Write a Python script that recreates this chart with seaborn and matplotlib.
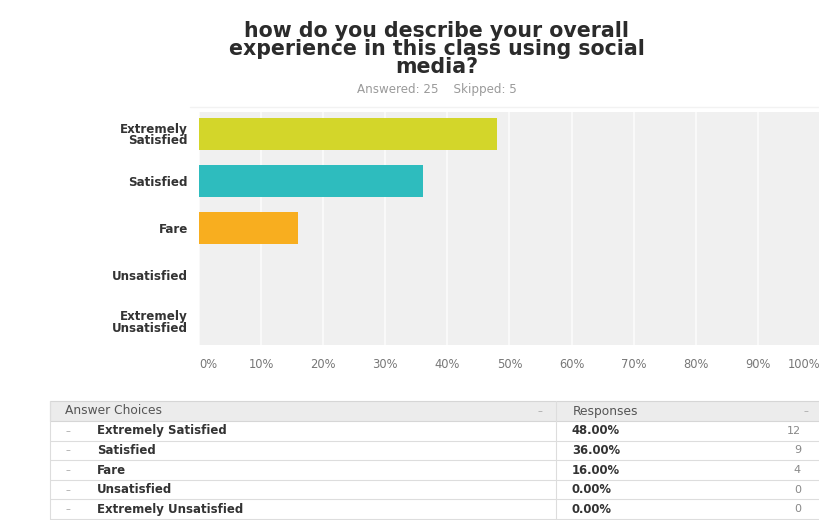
import matplotlib
matplotlib.use("Agg")
import matplotlib.pyplot as plt
import seaborn as sns
import pandas as pd

# Survey answers
categories = ["Extremely\nSatisfied", "Satisfied", "Fare", "Unsatisfied", "Extremely\nUnsatisfied"]
choices = ["Extremely Satisfied", "Satisfied", "Fare", "Unsatisfied", "Extremely Unsatisfied"]
percents = [48.0, 36.0, 16.0, 0.0, 0.0]
counts = [12, 9, 4, 0, 0]
bar_colors = ["#d3d62a", "#2ebcbe", "#f8ae1f", "#8aa5c5", "#9b7bb8"]
tick_values = [0, 10, 20, 30, 40, 50, 60, 70, 80, 90, 100]
tick_labels = ["0%", "10%", "20%", "30%", "40%", "50%", "60%", "70%", "80%", "90%", "100%"]

title_text = "how do you describe your overall\nexperience in this class using social\nmedia?"
subtitle_text = "Answered: 25    Skipped: 5"

sns.set_theme(style="white")
plt.rcParams["font.family"] = ["DejaVu Sans"]

W, H = 820, 520
fig = plt.figure(figsize=(W / 100, H / 100), dpi=100)
fig.patch.set_facecolor("white")

def fx(px):
    return px / W

def fy(py):
    return 1 - py / H

# Title block
fig.text(fx(437), fy(49), title_text, ha="center", va="center", fontsize=14.8,
         fontweight="bold", color="#2b2b2b", linespacing=0.88)
fig.text(fx(437), fy(90), subtitle_text, ha="center", va="center", fontsize=8.6,
         color="#9a9a9a")

# Bar chart
ax = fig.add_axes([fx(199), fy(345), fx(621), (345 - 112) / H])
ax.set_facecolor("#f0f0f0")
df = pd.DataFrame({"choice": categories, "pct": percents})
sns.barplot(data=df, x="pct", y="choice", hue="choice", palette=bar_colors,
            legend=False, width=0.68, ax=ax, saturation=1, zorder=3, linewidth=0)
ax.set_xlim(0, 100)
ax.set_ylim(4.49, -0.47)
for v in tick_values:
    ax.axvline(v, color="#fafafa", lw=1.3, zorder=1)
for s in ax.spines.values():
    s.set_visible(False)
ax.set_xlabel("")
ax.set_ylabel("")
ax.set_xticks(tick_values)
ax.set_xticklabels(tick_labels, fontsize=8.3, color="#777777")
ax.tick_params(axis="x", length=0, pad=9)
ax.tick_params(axis="y", length=0, pad=8)
xl = ax.get_xticklabels()
xl[0].set_horizontalalignment("left")
xl[-1].set_horizontalalignment("right")
for lbl in ax.get_yticklabels():
    lbl.set_fontweight("bold")
    lbl.set_fontsize(8.6)
    lbl.set_color("#333333")
    lbl.set_linespacing(0.85)
    lbl.set_multialignment("right")

# Separator line above the chart
fig.add_artist(plt.Line2D([fx(190), fx(820)], [fy(107), fy(107)], color="#f2f2f2", lw=1))

# Response table
tab = fig.add_axes([0, 0, 1, 1], facecolor="none")
tab.set_xlim(0, W)
tab.set_ylim(H, 0)
tab.axis("off")

header_top, header_bot = 401, 421
row_h = 19.6
left, right, divider = 50, 822, 556
tab.add_patch(plt.Rectangle((left, header_top), right - left, header_bot - header_top,
                            facecolor="#ececec", edgecolor="#d6d6d6", lw=0.8))
tab.text(65, (header_top + header_bot) / 2, "Answer Choices", ha="left", va="center",
         fontsize=8.8, color="#555555")
tab.text(540, (header_top + header_bot) / 2, "–", ha="center", va="center",
         fontsize=7, color="#aaaaaa")
tab.text(573, (header_top + header_bot) / 2, "Responses", ha="left", va="center",
         fontsize=8.8, color="#555555")
tab.text(806, (header_top + header_bot) / 2, "–", ha="center", va="center",
         fontsize=7, color="#aaaaaa")
tab.plot([divider, divider], [header_top, header_bot + row_h * len(choices)],
         color="#dddddd", lw=0.8)
for i, (name, p, c) in enumerate(zip(choices, percents, counts)):
    top = header_bot + i * row_h
    mid = top + row_h / 2
    tab.plot([left, right], [top + row_h, top + row_h], color="#dddddd", lw=0.8)
    tab.text(68, mid, "–", ha="center", va="center", fontsize=7, color="#aaaaaa")
    tab.text(97, mid, name, ha="left", va="center", fontsize=8.5,
             fontweight="bold", color="#333333")
    tab.text(572, mid, f"{p:.2f}%", ha="left", va="center", fontsize=8.4,
             fontweight="bold", color="#333333")
    tab.text(801, mid, str(c), ha="right", va="center", fontsize=8, color="#888888")
tab.plot([left, left], [header_top, header_bot + row_h * len(choices)],
         color="#dddddd", lw=0.8)

fig.savefig("out.png", dpi=100)
